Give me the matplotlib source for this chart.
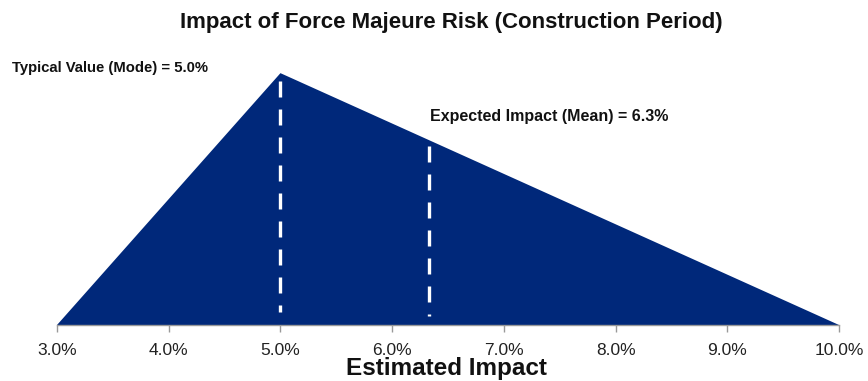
import numpy as np
import matplotlib
matplotlib.use('Agg')
import matplotlib.pyplot as plt
from matplotlib.ticker import FuncFormatter

plt.rcParams['font.family'] = ['Liberation Sans', 'DejaVu Sans']

# triangular distribution: min, mode, max (impact in %)
impact_pts = [3.0, 5.0, 10.0]
density = [0.0, 0.286, 0.0]
mode_val = 5.0
mean_val = 6.33
xticks = [3.0, 4.0, 5.0, 6.0, 7.0, 8.0, 9.0, 10.0]

navy = '#00287a'

fig = plt.figure(figsize=(8.68, 3.81), dpi=100)
ax = fig.add_axes([0.0657, 0.147, 0.9009, 0.661])

ax.fill(impact_pts, density, color=navy, lw=0)

# dashed markers for mode and mean, drawn top-down so the dash starts at the edge
for xv in (mode_val, mean_val):
    top = np.interp(xv, impact_pts, density)
    ax.plot([xv, xv], [top * 0.97, top * 0.05], color='white', lw=2.4,
            ls=(0, (4.8, 3.6)), solid_capstyle='butt')

ax.set_xlim(impact_pts[0], impact_pts[-1])
ax.set_ylim(0, max(density))
ax.set_xticks(xticks)
ax.xaxis.set_major_formatter(FuncFormatter(lambda v, p: f'{v:.1f}%'))
ax.set_yticks([])
for s in ('top', 'left', 'right'):
    ax.spines[s].set_visible(False)
ax.spines['bottom'].set_color('#999999')
ax.spines['bottom'].set_linewidth(1.0)
ax.tick_params(axis='x', colors='#999999', length=5, width=1.0,
               labelcolor='#222222', labelsize=12.5, pad=8)
ax.patch.set_alpha(0)
for sp in ax.spines.values():
    sp.set_clip_on(False)

fig.text(0.52, 0.94, 'Impact of Force Majeure Risk (Construction Period)',
         ha='center', va='center', fontsize=16, fontweight='bold', color='#111111')
fig.text(0.514, 0.034, 'Estimated Impact', ha='center', va='center',
         fontsize=17.5, fontweight='bold', color='#111111')

fig.text(0.014, 0.822, f'Typical Value (Mode) = {mode_val:.1f}%', ha='left', va='center',
         fontsize=10.7, fontweight='bold', color='#111111')
fig.text(0.495, 0.693, f'Expected Impact (Mean) = {mean_val:.1f}%', ha='left', va='center',
         fontsize=11.5, fontweight='bold', color='#111111')

fig.savefig('out.png', dpi=100)
